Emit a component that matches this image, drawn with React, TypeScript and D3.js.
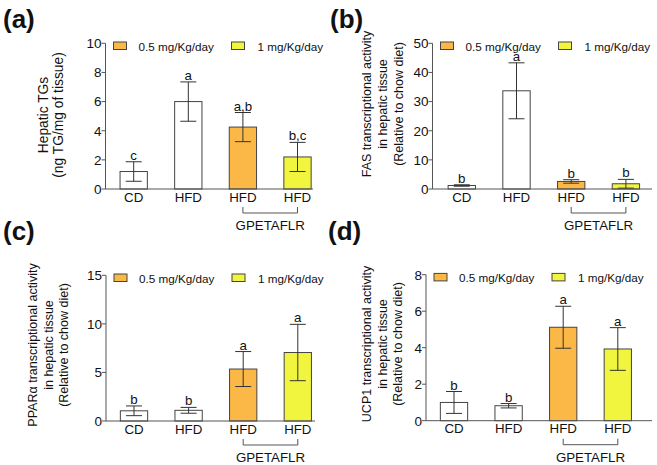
import React from "react";
import * as d3 from "d3";

const groupIds = ["CD", "HFD", "GP05", "GP1"];
const groupLabels = ["CD", "HFD", "HFD", "HFD"];
const legendLabels = ["0.5 mg/Kg/day", "1 mg/Kg/day"];
const bracketLabel = "GPETAFLR";

const tgMeans = [1.2, 6.0, 4.25, 2.2];
const tgErr = [0.67, 1.35, 1.0, 1.0];
const tgLetters = ["c", "a", "a,b", "b,c"];
const tgTicks = [0, 2, 4, 6, 8, 10];

const fasMeans = [1.2, 33.7, 2.6, 1.8];
const fasErr = [0.25, 9.6, 0.6, 1.5];
const fasLetters = ["b", "a", "b", "b"];
const fasTicks = [0, 10, 20, 30, 40, 50];

const pparMeans = [1.05, 1.1, 5.35, 7.05];
const pparErr = [0.5, 0.3, 1.8, 2.9];
const pparLetters = ["b", "b", "a", "a"];
const pparTicks = [0, 5, 10, 15];

const ucpMeans = [1.0, 0.82, 5.12, 3.93];
const ucpErr = [0.6, 0.12, 1.15, 1.17];
const ucpLetters = ["b", "b", "a", "a"];
const ucpTicks = [0, 2, 4, 6, 8];

const FILLS = ["#ffffff", "#ffffff", "#fbb847", "#f2f53e"];
const AXIS = "#555";
const FONT = "'Liberation Sans', Arial, sans-serif";

type PanelProps = {
  letter: string;
  letterX: number;
  letterY: number;
  axisX: number;
  xEnd: number;
  yTop: number;
  yBot: number;
  firstCenter: number;
  step: number;
  ticks: number[];
  means: number[];
  errs: number[];
  letters: string[];
  title: string[];
  titleFs: number;
  titleBaseX: number;
  titleCY: number;
  titleGap: number;
};

function Panel(p: PanelProps) {
  const y = d3.scaleLinear().domain([0, p.ticks[p.ticks.length - 1]]).range([p.yBot, p.yTop]);
  const r0 = p.firstCenter - p.step / 2;
  const x = d3
    .scaleBand<string>()
    .domain(groupIds)
    .range([r0, r0 + p.step * groupIds.length])
    .paddingInner(0.5)
    .paddingOuter(0.25);
  const bw = x.bandwidth();
  const cap = 16;
  const cx = (i: number) => (x(groupIds[i]) as number) + bw / 2;
  const bracketY = p.yBot + 24;
  return (
    <g fontFamily={FONT}>
      <text x={p.letterX} y={p.letterY} fontSize={26} fontWeight="bold" fill="#111">
        {p.letter}
      </text>
      <text
        transform={`translate(${p.titleBaseX},${p.titleCY}) rotate(-90)`}
        textAnchor="middle"
        fontSize={p.titleFs}
        fill="#111"
      >
        {p.title.map((t, i) => (
          <tspan key={i} x={0} y={i * p.titleGap}>
            {t}
          </tspan>
        ))}
      </text>
      {/* y axis */}
      <line x1={p.axisX} x2={p.axisX} y1={p.yTop} y2={p.yBot} stroke={AXIS} strokeWidth={1} />
      {p.ticks.map((t) => (
        <g key={t}>
          <line x1={p.axisX - 4} x2={p.axisX} y1={y(t)} y2={y(t)} stroke={AXIS} />
          <text x={p.axisX - 4} y={y(t)} dy="0.36em" textAnchor="end" fontSize={13.5} fill="#111">
            {t}
          </text>
        </g>
      ))}
      {/* bars */}
      {p.means.map((m, i) => (
        <rect
          key={i}
          x={x(groupIds[i])}
          y={y(m)}
          width={bw}
          height={p.yBot - y(m)}
          fill={FILLS[i]}
          stroke="#444"
          strokeWidth={1}
        />
      ))}
      {/* error bars */}
      {p.means.map((m, i) => {
        const hi = y(m + p.errs[i]);
        const lo = y(Math.max(0, m - p.errs[i]));
        return (
          <g key={i} stroke="#333" strokeWidth={1}>
            <line x1={cx(i)} x2={cx(i)} y1={hi} y2={lo} />
            <line x1={cx(i) - cap / 2} x2={cx(i) + cap / 2} y1={hi} y2={hi} />
            <line x1={cx(i) - cap / 2} x2={cx(i) + cap / 2} y1={lo} y2={lo} />
          </g>
        );
      })}
      {/* significance letters */}
      {p.means.map((m, i) => (
        <text key={i} x={cx(i)} y={y(m + p.errs[i]) - 2} textAnchor="middle" fontSize={13.3} fill="#111">
          {p.letters[i]}
        </text>
      ))}
      {/* x axis */}
      <line x1={p.axisX} x2={p.xEnd} y1={p.yBot} y2={p.yBot} stroke={AXIS} strokeWidth={1} />
      {groupLabels.map((l, i) => (
        <text key={i} x={cx(i)} y={p.yBot + 12.5} textAnchor="middle" fontSize={13.3} fill="#111">
          {l}
        </text>
      ))}
      {/* bracket */}
      <path
        d={`M${cx(2)},${bracketY - 6}V${bracketY}H${cx(3)}V${bracketY - 6}`}
        fill="none"
        stroke={AXIS}
        strokeWidth={1}
      />
      <text x={(cx(2) + cx(3)) / 2} y={bracketY + 17} textAnchor="middle" fontSize={13.3} fill="#111">
        {bracketLabel}
      </text>
      {/* legend */}
      {legendLabels.map((l, i) => (
        <g key={l}>
          <rect
            x={p.axisX + 8 + i * 118}
            y={p.yTop - 1.3}
            width={13}
            height={7.5}
            fill={FILLS[2 + i]}
            stroke="#444"
            strokeWidth={1}
          />
          <text x={p.axisX + 33 + i * 119} y={p.yTop + 7.7} fontSize={11.7} fill="#111">
            {l}
          </text>
        </g>
      ))}
    </g>
  );
}

export default function App() {
  return (
    <svg width={657} height={465} style={{ position: "absolute", left: 0, top: 0, background: "#fff" }}>
      <rect width={657} height={465} fill="#fff" />
      <Panel
        letter="(a)"
        letterX={3}
        letterY={28}
        axisX={105.5}
        xEnd={313}
        yTop={43.3}
        yBot={189}
        firstCenter={133.7}
        step={54.6}
        ticks={tgTicks}
        means={tgMeans}
        errs={tgErr}
        letters={tgLetters}
        title={["Hepatic TGs", "(ng TG/mg of tissue)"]}
        titleFs={13.8}
        titleBaseX={47.8}
        titleCY={115}
        titleGap={15}
      />
      <Panel
        letter="(b)"
        letterX={330}
        letterY={28}
        axisX={432.5}
        xEnd={652}
        yTop={43.3}
        yBot={189}
        firstCenter={461.8}
        step={54.7}
        ticks={fasTicks}
        means={fasMeans}
        errs={fasErr}
        letters={fasLetters}
        title={["FAS transcriptional activity", "in hepatic tissue", "(Relative to chow diet)"]}
        titleFs={12.5}
        titleBaseX={371.4}
        titleCY={104}
        titleGap={16}
      />
      <Panel
        letter="(c)"
        letterX={3}
        letterY={240}
        axisX={106}
        xEnd={315}
        yTop={275.3}
        yBot={421}
        firstCenter={134}
        step={54.6}
        ticks={pparTicks}
        means={pparMeans}
        errs={pparErr}
        letters={pparLetters}
        title={["PPARα transcriptional activity", "in hepatic tissue", "(Relative to chow diet)"]}
        titleFs={12.5}
        titleBaseX={37.4}
        titleCY={345}
        titleGap={15.5}
      />
      <Panel
        letter="(d)"
        letterX={328}
        letterY={240}
        axisX={426}
        xEnd={652}
        yTop={274.7}
        yBot={420.7}
        firstCenter={454}
        step={54.6}
        ticks={ucpTicks}
        means={ucpMeans}
        errs={ucpErr}
        letters={ucpLetters}
        title={["UCP1 transcriptional activity", "in hepatic tissue", "(Relative to chow diet)"]}
        titleFs={12.5}
        titleBaseX={371.4}
        titleCY={344}
        titleGap={15.5}
      />
    </svg>
  );
}
